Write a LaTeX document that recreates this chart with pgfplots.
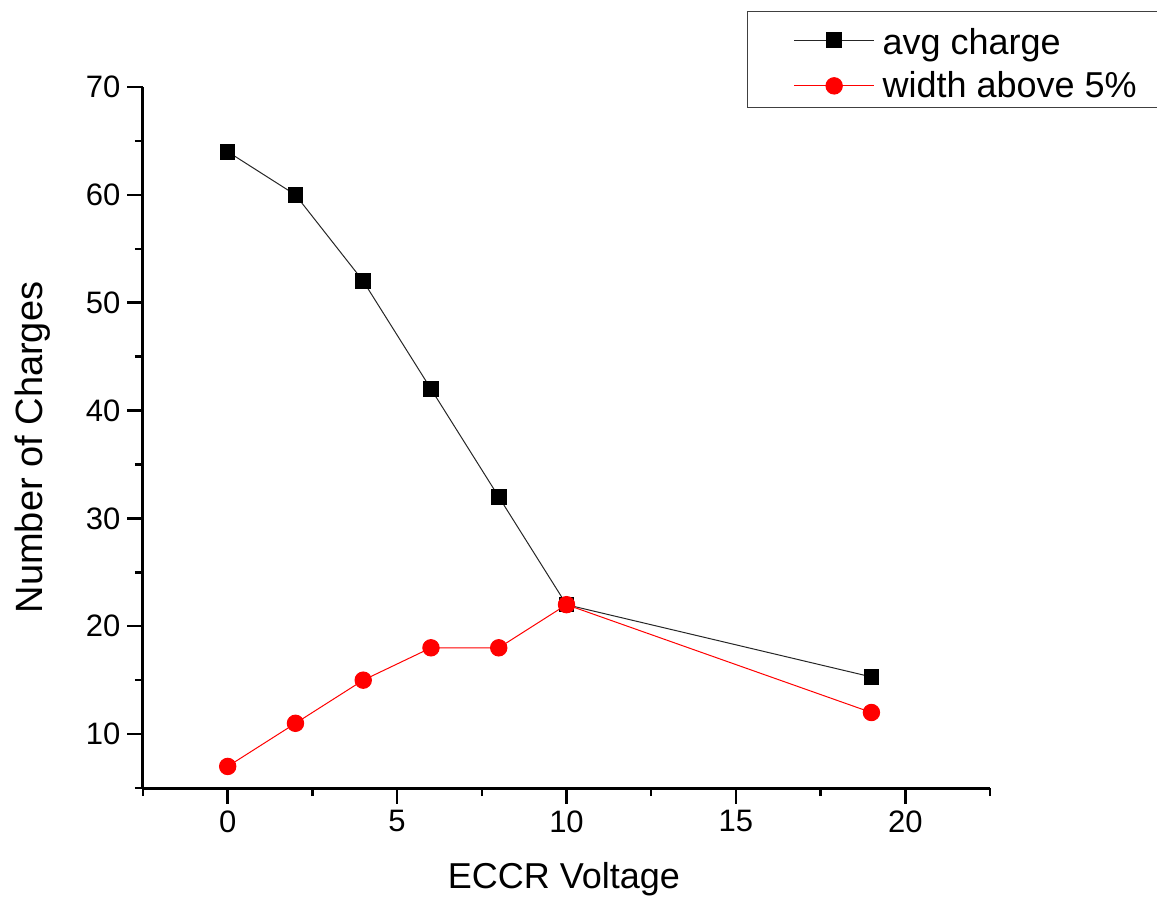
\documentclass[border=0pt]{standalone}
\usepackage{pgfplots}
\pgfplotsset{compat=1.18}
\usepackage{fontspec}
\setmainfont{Liberation Sans}
\begin{document}
\begin{tikzpicture}
\useasboundingbox (-71.5pt,-54pt) rectangle (507pt,394pt);
\begin{axis}[
  scale only axis,
  width=423.5pt, height=350.5pt,
  xmin=-2.5, xmax=22.5, ymin=5, ymax=70,
  axis lines*=left,
  axis line style={-, line width=1.5pt, black},
  xtick={0,5,10,15,20},
  minor xtick={-2.5,2.5,7.5,12.5,17.5,22.5},
  ytick={10,20,30,40,50,60,70},
  minor ytick={5,15,25,35,45,55,65},
  tick align=outside,
  major tick length=7.75pt,
  minor tick length=4pt,
  every tick/.style={line width=1.25pt, black},
  /pgf/number format/assume math mode=true,
  tick label style={font=\fontsize{15.5}{18}\selectfont},
  xlabel={ECCR Voltage},
  ylabel={Number of Charges},
  xlabel style={font=\fontsize{18}{21}\selectfont, at={(axis description cs:0.497,-0.1427)}, anchor=base},
  ylabel style={font=\fontsize{19}{22}\selectfont, at={(axis description cs:-0.1192,0.4857)}, anchor=base, rotate=0},
  clip=false,
  legend style={
    at={(axis description cs:0.7131,1.1084)}, anchor=north west,
    draw=black!75, line width=0.65pt,
    font=\fontsize{18}{21}\selectfont,
    inner xsep=23pt, inner ysep=1pt,
    row sep=0pt,
    nodes={inner xsep=2.5pt, inner ysep=2.3pt},
  },
  legend cell align=left,
  legend image code/.code={
    \draw[mark repeat=2, mark phase=2, #1, line width=0.5pt]
      plot coordinates {(0pt,0pt) (20pt,0pt) (40pt,0pt)};
  },
]
\addplot[black!85, line width=0.5pt, mark=square*, mark size=3.65pt,
  mark options={solid, fill=black, draw=black}]
  coordinates {(0,64) (2,60) (4,52) (6,42) (8,32) (10,22) (19,15.3)};
\addlegendentry[text height=18pt, text depth=3.8pt, inner xsep=4pt]{avg charge}
\addplot[red, line width=0.5pt, mark=*, mark size=4.1pt,
  mark options={solid, fill=red, draw=red}]
  coordinates {(0,7) (2,11) (4,15) (6,18) (8,18) (10,22) (19,12)};
\addlegendentry[text height=13pt, text depth=1.8pt, inner xsep=4pt]{width above 5\%}
\end{axis}
\end{tikzpicture}
\end{document}
